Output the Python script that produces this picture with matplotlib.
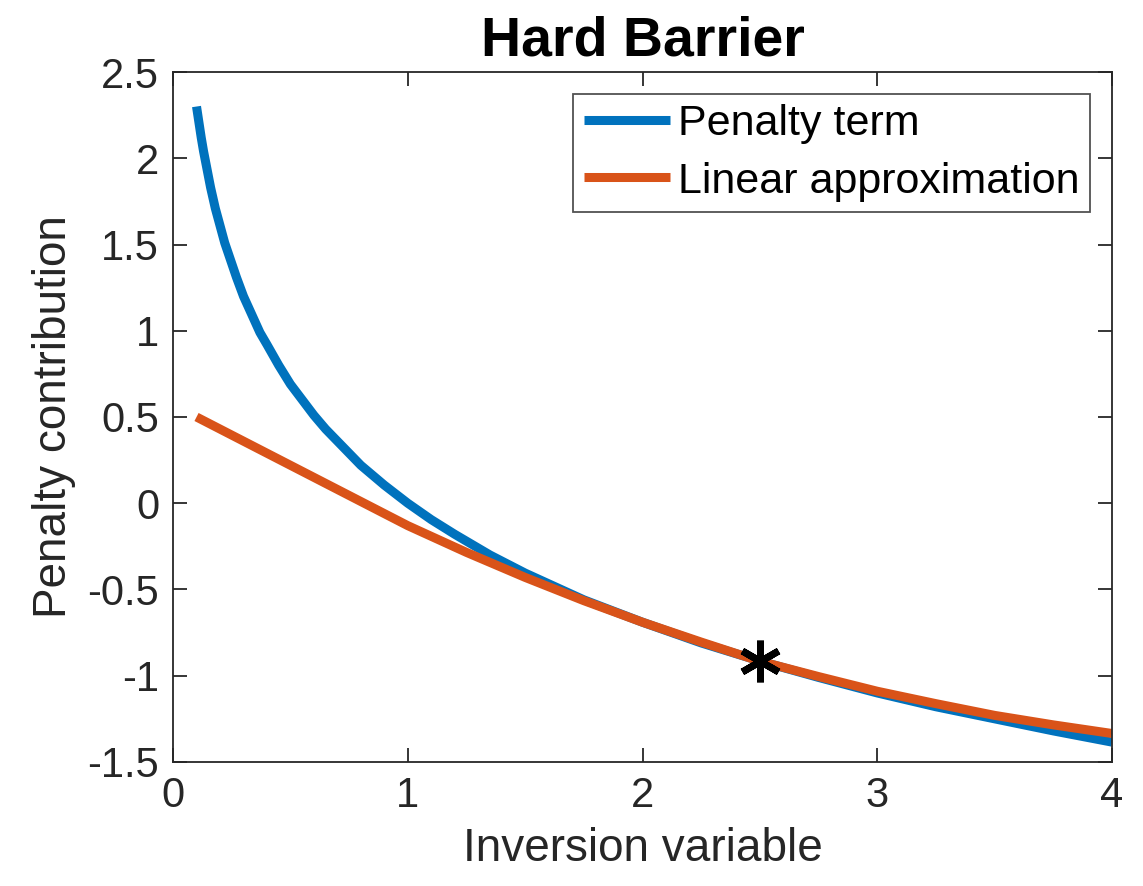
import matplotlib.pyplot as plt

plt.rcParams['font.family'] = ['Liberation Sans', 'DejaVu Sans']

# Penalty term (blue)
x_pen = [0.1, 0.11, 0.12, 0.13, 0.14, 0.15, 0.16, 0.17, 0.18, 0.19, 0.2, 0.22, 0.25, 0.27,
         0.3, 0.32, 0.35, 0.37, 0.4, 0.45, 0.5, 0.55, 0.6, 0.65, 0.7, 0.75, 0.8, 0.9,
         1.0, 1.1, 1.2, 1.35, 1.5, 1.75, 2.0, 2.25, 2.5, 2.75, 3.0, 3.25, 3.5, 3.75, 4.0]
y_pen = [2.30, 2.21, 2.12, 2.04, 1.97, 1.90, 1.83, 1.77, 1.71, 1.66, 1.61, 1.51, 1.39, 1.31,
         1.20, 1.14, 1.05, 0.99, 0.92, 0.80, 0.69, 0.60, 0.51, 0.43, 0.36, 0.29, 0.22, 0.105,
         0.0, -0.095, -0.18, -0.30, -0.405, -0.56, -0.69, -0.81, -0.915, -1.01, -1.10, -1.18,
         -1.25, -1.32, -1.385]

# Linear approximation (orange)
x_lin = [0.1, 0.25, 0.5, 0.75, 1.0, 1.25, 1.5, 1.75, 2.0, 2.25, 2.5, 2.75, 3.0, 3.25, 3.5, 3.75, 4.0]
y_lin = [0.50, 0.395, 0.22, 0.045, -0.13, -0.285, -0.43, -0.565, -0.69, -0.805, -0.916,
         -1.005, -1.09, -1.162, -1.23, -1.285, -1.335]

# expansion point
x_star = 2.5
y_star = -0.916

blue = '#0072BD'
orange = '#D95319'
grey = '#262626'

fig = plt.figure(figsize=(11.43, 8.86), dpi=100)
ax = fig.add_axes([0.1514, 0.1400, 0.8215, 0.7787])

ax.plot(x_pen, y_pen, color=blue, linewidth=6.5, solid_capstyle='butt',
        solid_joinstyle='round', label='Penalty term')
ax.plot(x_lin, y_lin, color=orange, linewidth=6.5, solid_capstyle='butt',
        solid_joinstyle='round', label='Linear approximation')
ax.plot(x_star, y_star, linestyle='none', marker=(6, 2, 0), markersize=30,
        markeredgewidth=5, color='black', zorder=5)

ax.set_xlim(0, 4)
ax.set_ylim(-1.5, 2.5)
ax.set_xticks([0, 1, 2, 3, 4])
ax.set_yticks([-1.5, -1, -0.5, 0, 0.5, 1, 1.5, 2, 2.5])
ax.set_yticklabels(['-1.5', '-1', '-0.5', '0', '0.5', '1', '1.5', '2', '2.5'])

ax.tick_params(direction='in', length=10, width=1.3, colors=grey, labelsize=30,
               top=True, right=True, pad=10)
for s in ax.spines.values():
    s.set_color(grey)
    s.set_linewidth(1.3)

ax.set_xlabel('Inversion variable', fontsize=33, color=grey, labelpad=8)
ax.set_ylabel('Penalty contribution', fontsize=33, color=grey, labelpad=8)
ax.set_title('Hard Barrier', fontsize=40, fontweight='bold', pad=12)

leg = ax.legend(loc='upper right', fontsize=31, frameon=True, fancybox=False,
                edgecolor=grey, handlelength=2.0, handletextpad=0.2,
                borderpad=0.25, labelspacing=0.4, borderaxespad=0.5)
leg.get_frame().set_linewidth(1.3)

fig.savefig('out.png', dpi=100)
